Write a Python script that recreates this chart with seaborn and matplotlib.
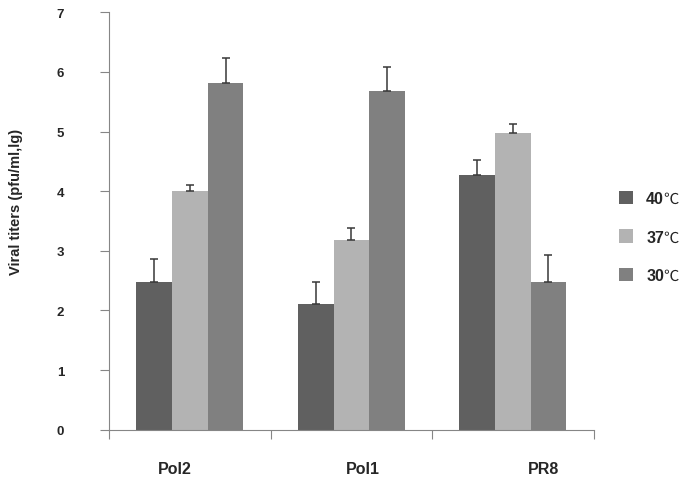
import pandas as pd
import matplotlib.pyplot as plt
import numpy as np
import seaborn as sns
from matplotlib.patches import Patch

# values
viruses = ['Pol2', 'Pol1', 'PR8']
temps = ['40', '37', '30']
unit = '℃'
titer_40 = [2.47, 2.10, 4.27]
titer_37 = [4.00, 3.18, 4.97]
titer_30 = [5.81, 5.68, 2.47]
err_40 = [0.40, 0.37, 0.26]
err_37 = [0.11, 0.20, 0.15]
err_30 = [0.43, 0.41, 0.46]

colors = ['#606060', '#b3b3b3', '#808080']

sns.set_style('white')
plt.rcParams['font.family'] = ['Liberation Sans', 'DejaVu Sans', 'Noto Sans CJK SC']

rows = []
for t, vals in zip(temps, [titer_40, titer_37, titer_30]):
    for v, val in zip(viruses, vals):
        rows.append({'virus': v, 'temp': t, 'titer': val})
df = pd.DataFrame(rows)
errs = [err_40, err_37, err_30]

fig = plt.figure(figsize=(6.83, 4.81), dpi=100)
ax = fig.add_axes([0.16, 0.1046, 0.709, 0.8677])

sns.barplot(data=df, x='virus', y='titer', hue='temp', order=viruses,
            hue_order=temps, palette=colors, width=0.663, errorbar=None,
            linewidth=0, saturation=1, legend=False, ax=ax)

for cont, e in zip(ax.containers, errs):
    xs = [b.get_x() + b.get_width() / 2 for b in cont]
    hs = [b.get_height() for b in cont]
    ax.errorbar(xs, hs, yerr=[np.zeros(len(e)), e], fmt='none',
                ecolor='#383838', elinewidth=1.1, capsize=3.2, capthick=1.1)

ax.set_xlim(-0.5, 2.5)
ax.set_ylim(0, 7)
ax.set_yticks(range(8))
ax.set_yticklabels([str(i) for i in range(8)], fontsize=9.5, fontweight='bold')
ax.set_xticks([-0.5, 0.5, 1.5, 2.5])
ax.set_xticklabels([])
ax.tick_params(axis='y', direction='out', length=6.5, width=0.8,
               color='#868686', pad=26, left=True)
ax.tick_params(axis='x', direction='out', length=6.5, width=0.8,
               color='#868686', bottom=True)

label_shift = [-0.093, 0.07, 0.19]
for i, (v, s) in enumerate(zip(viruses, label_shift)):
    ax.text(i + s, -0.0935, v, transform=ax.get_xaxis_transform(),
            ha='center', va='center', fontsize=11.5, fontweight='bold')

ax.set_xlabel('')
ax.set_ylabel('Viral titers (pfu/ml,lg)', fontsize=10.5, fontweight='bold')
ax.yaxis.set_label_coords(-0.178, 0.548)

for side in ['top', 'right']:
    ax.spines[side].set_visible(False)
for side in ['left', 'bottom']:
    ax.spines[side].set_color('#868686')
    ax.spines[side].set_linewidth(0.8)

handles = [Patch(facecolor=c, edgecolor='none') for c in colors]
leg = fig.legend(handles, temps, loc='center left',
                 bbox_to_anchor=(619 / 683, 1 - 238 / 481), frameon=False,
                 prop={'size': 11.5, 'weight': 'bold'},
                 handlelength=0.9, handleheight=0.9,
                 handletextpad=0.8, labelspacing=1.45, borderpad=0,
                 borderaxespad=0)

# degree sign in regular weight right after the bold digits
fig.canvas.draw()
inv = fig.transFigure.inverted()
for txt in leg.get_texts():
    bb = txt.get_window_extent()
    x0, y0 = inv.transform((bb.x1 - 0.5, (bb.y0 + bb.y1) / 2))
    fig.text(x0, y0, unit, ha='left', va='center', fontsize=11,
             color='#222222', family=['Noto Sans CJK SC', 'DejaVu Sans'])

fig.savefig('out.png', dpi=100)
